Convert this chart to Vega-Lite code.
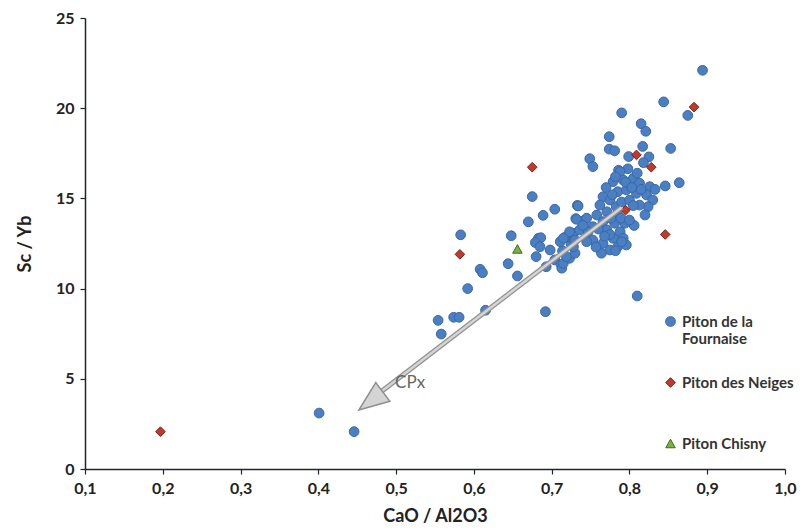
{
  "$schema": "https://vega.github.io/schema/vega-lite/v6.json",
  "width": 700,
  "height": 451,
  "autosize": {"type": "none"},
  "padding": {"left": 85, "top": 18, "right": 18, "bottom": 63},
  "background": "white",
  "config": {
    "view": {"stroke": null},
    "font": "Lato",
    "axis": {
      "grid": false,
      "domainColor": "#1c2533",
      "domainWidth": 1.5,
      "tickColor": "#1c2533",
      "tickWidth": 1.2,
      "tickSize": 5,
      "labelFont": "Lato",
      "labelFontSize": 16,
      "labelFontWeight": "bold",
      "labelColor": "#222222",
      "titleFont": "Lato",
      "titleFontSize": 18,
      "titleFontWeight": "bold",
      "titleColor": "#222222"
    }
  },
  "datasets": {
    "pts": [
      {"x": 0.894, "y": 22.1, "site": "Piton de la Fournaise"},
      {"x": 0.844, "y": 20.35, "site": "Piton de la Fournaise"},
      {"x": 0.875, "y": 19.6, "site": "Piton de la Fournaise"},
      {"x": 0.79, "y": 19.74, "site": "Piton de la Fournaise"},
      {"x": 0.815, "y": 19.14, "site": "Piton de la Fournaise"},
      {"x": 0.821, "y": 18.72, "site": "Piton de la Fournaise"},
      {"x": 0.774, "y": 18.42, "site": "Piton de la Fournaise"},
      {"x": 0.774, "y": 17.73, "site": "Piton de la Fournaise"},
      {"x": 0.781, "y": 17.64, "site": "Piton de la Fournaise"},
      {"x": 0.817, "y": 17.88, "site": "Piton de la Fournaise"},
      {"x": 0.853, "y": 17.77, "site": "Piton de la Fournaise"},
      {"x": 0.799, "y": 17.32, "site": "Piton de la Fournaise"},
      {"x": 0.825, "y": 17.3, "site": "Piton de la Fournaise"},
      {"x": 0.749, "y": 17.2, "site": "Piton de la Fournaise"},
      {"x": 0.753, "y": 16.76, "site": "Piton de la Fournaise"},
      {"x": 0.786, "y": 16.56, "site": "Piton de la Fournaise"},
      {"x": 0.798, "y": 16.64, "site": "Piton de la Fournaise"},
      {"x": 0.818, "y": 16.98, "site": "Piton de la Fournaise"},
      {"x": 0.864, "y": 15.87, "site": "Piton de la Fournaise"},
      {"x": 0.846, "y": 15.69, "site": "Piton de la Fournaise"},
      {"x": 0.675, "y": 15.1, "site": "Piton de la Fournaise"},
      {"x": 0.704, "y": 14.4, "site": "Piton de la Fournaise"},
      {"x": 0.733, "y": 14.61, "site": "Piton de la Fournaise"},
      {"x": 0.689, "y": 14.06, "site": "Piton de la Fournaise"},
      {"x": 0.67, "y": 13.7, "site": "Piton de la Fournaise"},
      {"x": 0.648, "y": 12.93, "site": "Piton de la Fournaise"},
      {"x": 0.583, "y": 12.98, "site": "Piton de la Fournaise"},
      {"x": 0.683, "y": 12.79, "site": "Piton de la Fournaise"},
      {"x": 0.686, "y": 12.82, "site": "Piton de la Fournaise"},
      {"x": 0.679, "y": 12.55, "site": "Piton de la Fournaise"},
      {"x": 0.685, "y": 12.32, "site": "Piton de la Fournaise"},
      {"x": 0.68, "y": 11.77, "site": "Piton de la Fournaise"},
      {"x": 0.698, "y": 12.14, "site": "Piton de la Fournaise"},
      {"x": 0.711, "y": 12.6, "site": "Piton de la Fournaise"},
      {"x": 0.714, "y": 12.09, "site": "Piton de la Fournaise"},
      {"x": 0.725, "y": 12.47, "site": "Piton de la Fournaise"},
      {"x": 0.722, "y": 12.88, "site": "Piton de la Fournaise"},
      {"x": 0.728, "y": 13.07, "site": "Piton de la Fournaise"},
      {"x": 0.704, "y": 11.59, "site": "Piton de la Fournaise"},
      {"x": 0.712, "y": 11.34, "site": "Piton de la Fournaise"},
      {"x": 0.693, "y": 11.21, "site": "Piton de la Fournaise"},
      {"x": 0.713, "y": 11.13, "site": "Piton de la Fournaise"},
      {"x": 0.715, "y": 11.4, "site": "Piton de la Fournaise"},
      {"x": 0.723, "y": 11.68, "site": "Piton de la Fournaise"},
      {"x": 0.73, "y": 11.96, "site": "Piton de la Fournaise"},
      {"x": 0.719, "y": 11.77, "site": "Piton de la Fournaise"},
      {"x": 0.728, "y": 12.32, "site": "Piton de la Fournaise"},
      {"x": 0.717, "y": 12.84, "site": "Piton de la Fournaise"},
      {"x": 0.644, "y": 11.38, "site": "Piton de la Fournaise"},
      {"x": 0.608, "y": 11.07, "site": "Piton de la Fournaise"},
      {"x": 0.611, "y": 10.88, "site": "Piton de la Fournaise"},
      {"x": 0.656, "y": 10.7, "site": "Piton de la Fournaise"},
      {"x": 0.592, "y": 10.0, "site": "Piton de la Fournaise"},
      {"x": 0.615, "y": 8.8, "site": "Piton de la Fournaise"},
      {"x": 0.692, "y": 8.72, "site": "Piton de la Fournaise"},
      {"x": 0.554, "y": 8.24, "site": "Piton de la Fournaise"},
      {"x": 0.574, "y": 8.41, "site": "Piton de la Fournaise"},
      {"x": 0.581, "y": 8.41, "site": "Piton de la Fournaise"},
      {"x": 0.558, "y": 7.48, "site": "Piton de la Fournaise"},
      {"x": 0.81, "y": 9.59, "site": "Piton de la Fournaise"},
      {"x": 0.401, "y": 3.1, "site": "Piton de la Fournaise"},
      {"x": 0.446, "y": 2.07, "site": "Piton de la Fournaise"},
      {"x": 0.731, "y": 13.88, "site": "Piton de la Fournaise"},
      {"x": 0.742, "y": 13.78, "site": "Piton de la Fournaise"},
      {"x": 0.788, "y": 16.48, "site": "Piton de la Fournaise"},
      {"x": 0.779, "y": 15.93, "site": "Piton de la Fournaise"},
      {"x": 0.792, "y": 16.02, "site": "Piton de la Fournaise"},
      {"x": 0.805, "y": 16.11, "site": "Piton de la Fournaise"},
      {"x": 0.813, "y": 15.84, "site": "Piton de la Fournaise"},
      {"x": 0.826, "y": 15.65, "site": "Piton de la Fournaise"},
      {"x": 0.833, "y": 15.5, "site": "Piton de la Fournaise"},
      {"x": 0.766, "y": 15.09, "site": "Piton de la Fournaise"},
      {"x": 0.785, "y": 15.37, "site": "Piton de la Fournaise"},
      {"x": 0.796, "y": 15.47, "site": "Piton de la Fournaise"},
      {"x": 0.809, "y": 15.28, "site": "Piton de la Fournaise"},
      {"x": 0.822, "y": 15.19, "site": "Piton de la Fournaise"},
      {"x": 0.83, "y": 14.91, "site": "Piton de la Fournaise"},
      {"x": 0.824, "y": 14.54, "site": "Piton de la Fournaise"},
      {"x": 0.813, "y": 14.63, "site": "Piton de la Fournaise"},
      {"x": 0.775, "y": 14.91, "site": "Piton de la Fournaise"},
      {"x": 0.762, "y": 14.63, "site": "Piton de la Fournaise"},
      {"x": 0.783, "y": 14.54, "site": "Piton de la Fournaise"},
      {"x": 0.734, "y": 14.58, "site": "Piton de la Fournaise"},
      {"x": 0.771, "y": 14.26, "site": "Piton de la Fournaise"},
      {"x": 0.785, "y": 14.08, "site": "Piton de la Fournaise"},
      {"x": 0.758, "y": 14.08, "site": "Piton de la Fournaise"},
      {"x": 0.745, "y": 13.9, "site": "Piton de la Fournaise"},
      {"x": 0.732, "y": 13.84, "site": "Piton de la Fournaise"},
      {"x": 0.82, "y": 14.08, "site": "Piton de la Fournaise"},
      {"x": 0.806, "y": 13.5, "site": "Piton de la Fournaise"},
      {"x": 0.766, "y": 13.71, "site": "Piton de la Fournaise"},
      {"x": 0.781, "y": 13.62, "site": "Piton de la Fournaise"},
      {"x": 0.794, "y": 13.62, "site": "Piton de la Fournaise"},
      {"x": 0.753, "y": 13.43, "site": "Piton de la Fournaise"},
      {"x": 0.771, "y": 13.25, "site": "Piton de la Fournaise"},
      {"x": 0.788, "y": 13.15, "site": "Piton de la Fournaise"},
      {"x": 0.723, "y": 13.15, "site": "Piton de la Fournaise"},
      {"x": 0.715, "y": 12.79, "site": "Piton de la Fournaise"},
      {"x": 0.73, "y": 12.69, "site": "Piton de la Fournaise"},
      {"x": 0.779, "y": 12.79, "site": "Piton de la Fournaise"},
      {"x": 0.792, "y": 12.79, "site": "Piton de la Fournaise"},
      {"x": 0.766, "y": 12.51, "site": "Piton de la Fournaise"},
      {"x": 0.785, "y": 12.32, "site": "Piton de la Fournaise"},
      {"x": 0.775, "y": 12.14, "site": "Piton de la Fournaise"},
      {"x": 0.764, "y": 11.96, "site": "Piton de la Fournaise"},
      {"x": 0.753, "y": 12.69, "site": "Piton de la Fournaise"},
      {"x": 0.796, "y": 12.42, "site": "Piton de la Fournaise"},
      {"x": 0.736, "y": 13.25, "site": "Piton de la Fournaise"},
      {"x": 0.747, "y": 13.15, "site": "Piton de la Fournaise"},
      {"x": 0.77, "y": 15.6, "site": "Piton de la Fournaise"},
      {"x": 0.778, "y": 15.2, "site": "Piton de la Fournaise"},
      {"x": 0.79, "y": 14.8, "site": "Piton de la Fournaise"},
      {"x": 0.8, "y": 14.9, "site": "Piton de la Fournaise"},
      {"x": 0.795, "y": 15.9, "site": "Piton de la Fournaise"},
      {"x": 0.803, "y": 15.6, "site": "Piton de la Fournaise"},
      {"x": 0.776, "y": 13.9, "site": "Piton de la Fournaise"},
      {"x": 0.789, "y": 13.9, "site": "Piton de la Fournaise"},
      {"x": 0.8, "y": 13.8, "site": "Piton de la Fournaise"},
      {"x": 0.76, "y": 13.3, "site": "Piton de la Fournaise"},
      {"x": 0.775, "y": 13.0, "site": "Piton de la Fournaise"},
      {"x": 0.79, "y": 12.6, "site": "Piton de la Fournaise"},
      {"x": 0.768, "y": 12.9, "site": "Piton de la Fournaise"},
      {"x": 0.782, "y": 12.1, "site": "Piton de la Fournaise"},
      {"x": 0.757, "y": 12.3, "site": "Piton de la Fournaise"},
      {"x": 0.745, "y": 12.6, "site": "Piton de la Fournaise"},
      {"x": 0.74, "y": 13.5, "site": "Piton de la Fournaise"},
      {"x": 0.805, "y": 14.6, "site": "Piton de la Fournaise"},
      {"x": 0.815, "y": 15.5, "site": "Piton de la Fournaise"},
      {"x": 0.782, "y": 16.2, "site": "Piton de la Fournaise"},
      {"x": 0.81, "y": 16.4, "site": "Piton de la Fournaise"},
      {"x": 0.197, "y": 2.07, "site": "Piton des Neiges"},
      {"x": 0.582, "y": 11.9, "site": "Piton des Neiges"},
      {"x": 0.675, "y": 16.73, "site": "Piton des Neiges"},
      {"x": 0.809, "y": 17.41, "site": "Piton des Neiges"},
      {"x": 0.828, "y": 16.73, "site": "Piton des Neiges"},
      {"x": 0.883, "y": 20.06, "site": "Piton des Neiges"},
      {"x": 0.795, "y": 14.35, "site": "Piton des Neiges"},
      {"x": 0.846, "y": 13.0, "site": "Piton des Neiges"},
      {"x": 0.656, "y": 12.2, "site": "Piton Chisny"}
    ],
    "arrow": [
      {"x": 0.79, "y": 14.5, "x2": 0.481, "y2": 4.3, "hx": 0.4675, "hy": 3.77, "lx": 0.518, "ly": 4.77, "label": "CPx"}
    ]
  },
  "layer": [
    {
      "data": {"name": "pts"},
      "mark": {"type": "point", "filled": true, "opacity": 1, "strokeWidth": 1},
      "encoding": {
        "x": {
          "field": "x", "type": "quantitative",
          "scale": {"domain": [0.1, 1.0], "nice": false, "zero": false},
          "axis": {
            "title": "CaO / Al2O3",
            "values": [0.1, 0.2, 0.3, 0.4, 0.5, 0.6, 0.7, 0.8, 0.9, 1.0],
            "labelExpr": "replace(format(datum.value, '.1f'), '.', ',')",
            "labelPadding": 6,
            "titlePadding": 11,
            "labelFlush": false
          }
        },
        "y": {
          "field": "y", "type": "quantitative",
          "scale": {"domain": [0, 25], "nice": false},
          "axis": {
            "title": "Sc / Yb",
            "values": [0, 5, 10, 15, 20, 25],
            "labelPadding": 6,
            "titlePadding": 21
          }
        },
        "color": {
          "field": "site", "type": "nominal",
          "scale": {"domain": ["Piton de la Fournaise", "Piton des Neiges", "Piton Chisny"], "range": ["#4a7fc4", "#c0392b", "#79b243"]},
          "legend": {
            "title": null,
            "orient": "none",
            "legendX": 578,
            "legendY": 296,
            "rowPadding": 28,
            "labelFont": "Lato",
            "labelFontSize": 15,
            "labelFontWeight": "bold",
            "labelColor": "#333333",
            "labelLimit": 200,
            "symbolStrokeWidth": 1,
            "labelExpr": "datum.label == 'Piton de la Fournaise' ? ['Piton de la', 'Fournaise'] : (datum.label == 'Piton des Neiges' ? ['Piton des Neiges', ' '] : datum.label)"
          }
        },
        "stroke": {
          "field": "site", "type": "nominal",
          "scale": {"domain": ["Piton de la Fournaise", "Piton des Neiges", "Piton Chisny"], "range": ["#3a68a6", "#7a2418", "#3d6b1f"]},
          "legend": null
        },
        "shape": {
          "field": "site", "type": "nominal",
          "scale": {"domain": ["Piton de la Fournaise", "Piton des Neiges", "Piton Chisny"], "range": ["circle", "diamond", "M0,-0.9L1,0.9L-1,0.9Z"]},
          "legend": null
        },
        "size": {
          "field": "site", "type": "nominal",
          "scale": {"domain": ["Piton de la Fournaise", "Piton des Neiges", "Piton Chisny"], "range": [95, 90, 190]},
          "legend": null
        }
      }
    },
    {
      "data": {"name": "arrow"},
      "mark": {"type": "rule", "color": "#8f8f8f", "strokeWidth": 5},
      "encoding": {
        "x": {"field": "x", "type": "quantitative"},
        "y": {"field": "y", "type": "quantitative"},
        "x2": {"field": "x2"},
        "y2": {"field": "y2"}
      }
    },
    {
      "data": {"name": "arrow"},
      "mark": {"type": "rule", "color": "#d4d4d4", "strokeWidth": 2.5},
      "encoding": {
        "x": {"field": "x", "type": "quantitative"},
        "y": {"field": "y", "type": "quantitative"},
        "x2": {"field": "x2"},
        "y2": {"field": "y2"}
      }
    },
    {
      "data": {"name": "arrow"},
      "mark": {"type": "point", "shape": "M0,-1L-0.78,1L0.78,1Z", "filled": true, "fill": "#d4d4d4", "stroke": "#8f8f8f", "strokeWidth": 1.5, "opacity": 1, "size": 900, "angle": 233},
      "encoding": {
        "x": {"field": "hx", "type": "quantitative"},
        "y": {"field": "hy", "type": "quantitative"}
      }
    },
    {
      "data": {"name": "arrow"},
      "mark": {"type": "text", "font": "Lato", "fontSize": 17, "color": "#666666", "align": "center", "baseline": "middle"},
      "encoding": {
        "x": {"field": "lx", "type": "quantitative"},
        "y": {"field": "ly", "type": "quantitative"},
        "text": {"field": "label"}
      }
    }
  ]
}
